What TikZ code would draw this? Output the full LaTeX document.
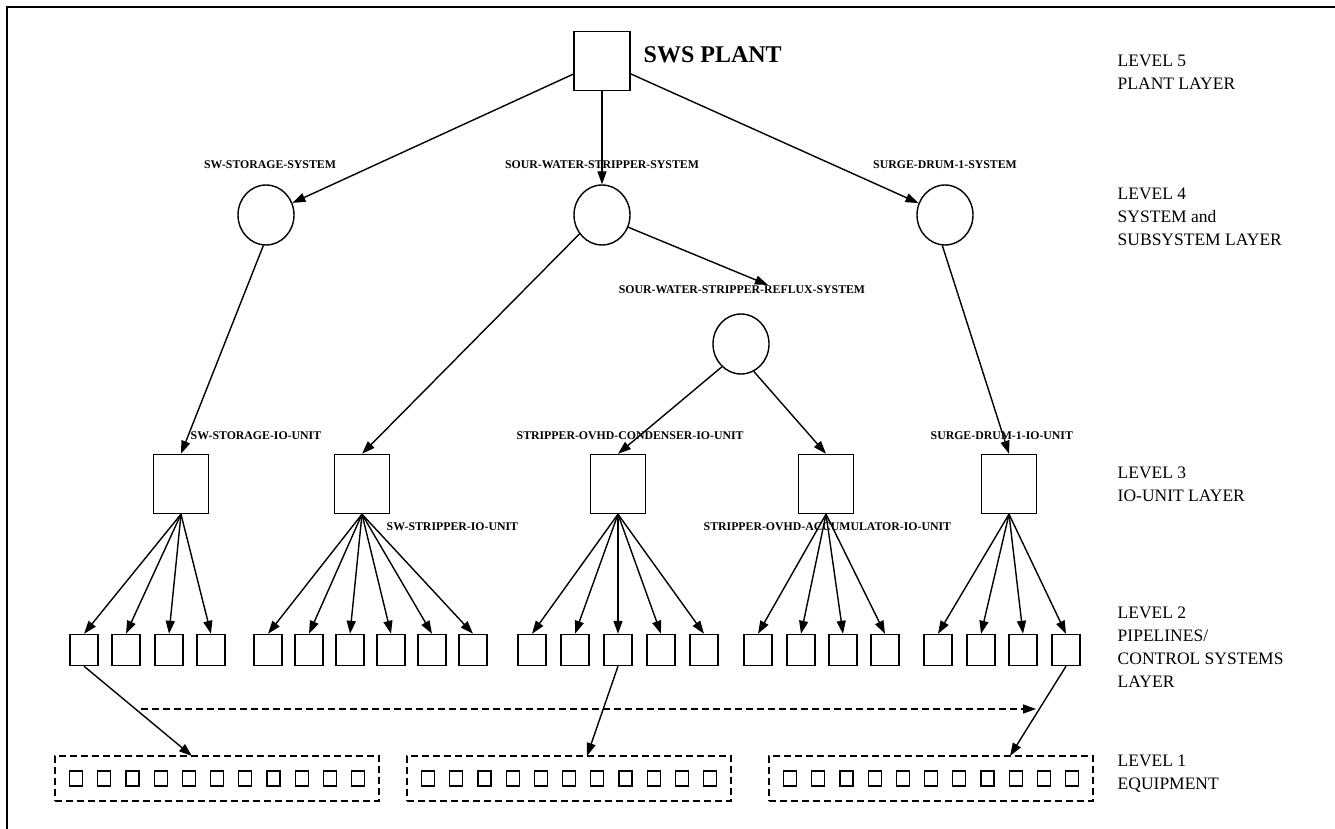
\documentclass[tikz,border=0pt]{standalone}
\usepackage{fontspec}
\setmainfont{Liberation Serif}
\usetikzlibrary{arrows.meta,shapes.geometric}
\begin{document}
\begin{tikzpicture}[x=1pt,y=-1pt,line width=1.4pt,
  unitbox/.style={draw,rectangle,minimum width=55pt,minimum height=59pt,inner sep=0pt},
  pipebox/.style={draw,rectangle,minimum width=28pt,minimum height=31pt,inner sep=0pt},
  sysnode/.style={draw,ellipse,minimum width=56pt,minimum height=60pt,inner sep=0pt},
  eqbox/.style={draw,rectangle,minimum width=13pt,minimum height=15pt,inner sep=0pt,line width=1.2pt},
  eqgroup/.style={draw,rectangle,dash pattern=on 7pt off 4pt,minimum width=#1,minimum height=45pt,inner sep=0pt},
  tag/.style={font=\bfseries\fontsize{11.8}{14}\selectfont,inner sep=0pt},
  layer/.style={font=\fontsize{17.5}{23}\selectfont,align=left,anchor=north west,inner sep=0pt},
  link/.style={-{Triangle[length=13pt,width=9pt]}},
  flow/.style={-{Triangle[length=13pt,width=9pt]},dash pattern=on 7pt off 4pt},
]
\useasboundingbox (0,0) rectangle (1335,829);
\fill[white] (0,0) rectangle (1335,829);
% page rules along the top and left edges
\draw (7,829) -- (7,7) -- (1335,7);

% ---------- level 5 : plant ----------
\node[unitbox,minimum width=56pt,minimum height=59pt] (plant) at (602,61) {};
\node[anchor=west,inner sep=0pt,font=\bfseries\fontsize{24}{28}\selectfont] (plantname) at (643,55) {SWS PLANT};

% ---------- level 4 : systems ----------
\node[sysnode] (st) at (266,215) {};
\node[sysnode] (sws) at (602,215) {};
\node[sysnode] (sg) at (945,215) {};
\node[tag] (stL) at (270,165) {SW-STORAGE-SYSTEM};
\node[tag] (swsL) at (602,165) {SOUR-WATER-STRIPPER-SYSTEM};
\node[tag] (sgL) at (945,165) {SURGE-DRUM-1-SYSTEM};
\node[sysnode] (rf) at (741,344) {};
\node[tag] (rfL) at (742,290) {SOUR-WATER-STRIPPER-REFLUX-SYSTEM};
\coordinate (rfTip) at (768,285);

\draw[link] (plant) -- (st);
\draw[link] (plant) -- (sws);
\draw[link] (plant) -- (sg);
\draw[link] (sws.-25) -- (rfTip);

% ---------- level 3 : IO units ----------
\node[unitbox] (stio) at (181,484) {};
\node[unitbox] (swio) at (362,484) {};
\node[unitbox] (cdio) at (618,484) {};
\node[unitbox] (acio) at (826,484) {};
\node[unitbox] (sgio) at (1009,484) {};
\node[tag,anchor=west] (stioL) at (190,436) {SW-STORAGE-IO-UNIT};
\node[tag,anchor=west] (swioL) at (386,527) {SW-STRIPPER-IO-UNIT};
\node[tag,anchor=west] (cdioL) at (516,436) {STRIPPER-OVHD-CONDENSER-IO-UNIT};
\node[tag,anchor=west] (acioL) at (703,527) {STRIPPER-OVHD-ACCUMULATOR-IO-UNIT};
\node[tag,anchor=west] (sgioL) at (930,436) {SURGE-DRUM-1-IO-UNIT};

\draw[link] (st.265) -- (stio.north);
\draw[link] (sws.220) -- (swio.north);
\draw[link] (rf.230) -- (cdio.north);
\draw[link] (rf.-65) -- (acio.north);
\draw[link] (sg.-95) -- (sgio.north);

% ---------- level 2 : pipelines / control systems ----------
\foreach \x [count=\i] in {84,126,169,211}
  {\node[pipebox] (pa\i) at (\x,650) {}; \draw[link] (stio.south) -- (pa\i.north);}
\foreach \x [count=\i] in {268,309,350,391,432,473}
  {\node[pipebox] (pb\i) at (\x,650) {}; \draw[link] (swio.south) -- (pb\i.north);}
\foreach \x [count=\i] in {532,575,618,661,704}
  {\node[pipebox] (pc\i) at (\x,650) {}; \draw[link] (cdio.south) -- (pc\i.north);}
\foreach \x [count=\i] in {758,801,843,885}
  {\node[pipebox] (pd\i) at (\x,650) {}; \draw[link] (acio.south) -- (pd\i.north);}
\foreach \x [count=\i] in {938,981,1023,1066}
  {\node[pipebox] (pe\i) at (\x,650) {}; \draw[link] (sgio.south) -- (pe\i.north);}

\coordinate (dA) at (141,709);
\coordinate (dB) at (1036,709);
\draw[flow] (dA) -- (dB);

% ---------- level 1 : equipment ----------
\node[eqgroup=324pt] (ba) at (217,778.5) {};
\node[eqgroup=324pt] (bb) at (569,778.5) {};
\node[eqgroup=324pt] (bc) at (931,778.5) {};
\foreach \k in {0,...,10} {
  \node[eqbox] (ea\k) at ({76+\k*28.2},778.5) {};
  \node[eqbox] (eb\k) at ({428+\k*28.2},778.5) {};
  \node[eqbox] (ec\k) at ({790+\k*28.2},778.5) {};
}
\coordinate (ta) at (192,756);
\coordinate (tb) at (587,756);
\coordinate (tc) at (1010,756);
\draw[link] (pa1.south) -- (ta);
\draw[link] (pc3.south) -- (tb);
\draw[link] (pe4.south) -- (tc);

% ---------- layer captions ----------
\node[layer] (lv5) at (1117,54.2) {LEVEL 5\\PLANT LAYER};
\node[layer] (lv4) at (1117,187.2) {LEVEL 4\\SYSTEM and\\SUBSYSTEM LAYER};
\node[layer] (lv3) at (1117,466.2) {LEVEL 3\\IO-UNIT LAYER};
\node[layer] (lv2) at (1117,606.2) {LEVEL 2\\PIPELINES/\\CONTROL SYSTEMS\\LAYER};
\node[layer] (lv1) at (1117,754.2) {LEVEL 1\\EQUIPMENT};
\end{tikzpicture}
\end{document}
